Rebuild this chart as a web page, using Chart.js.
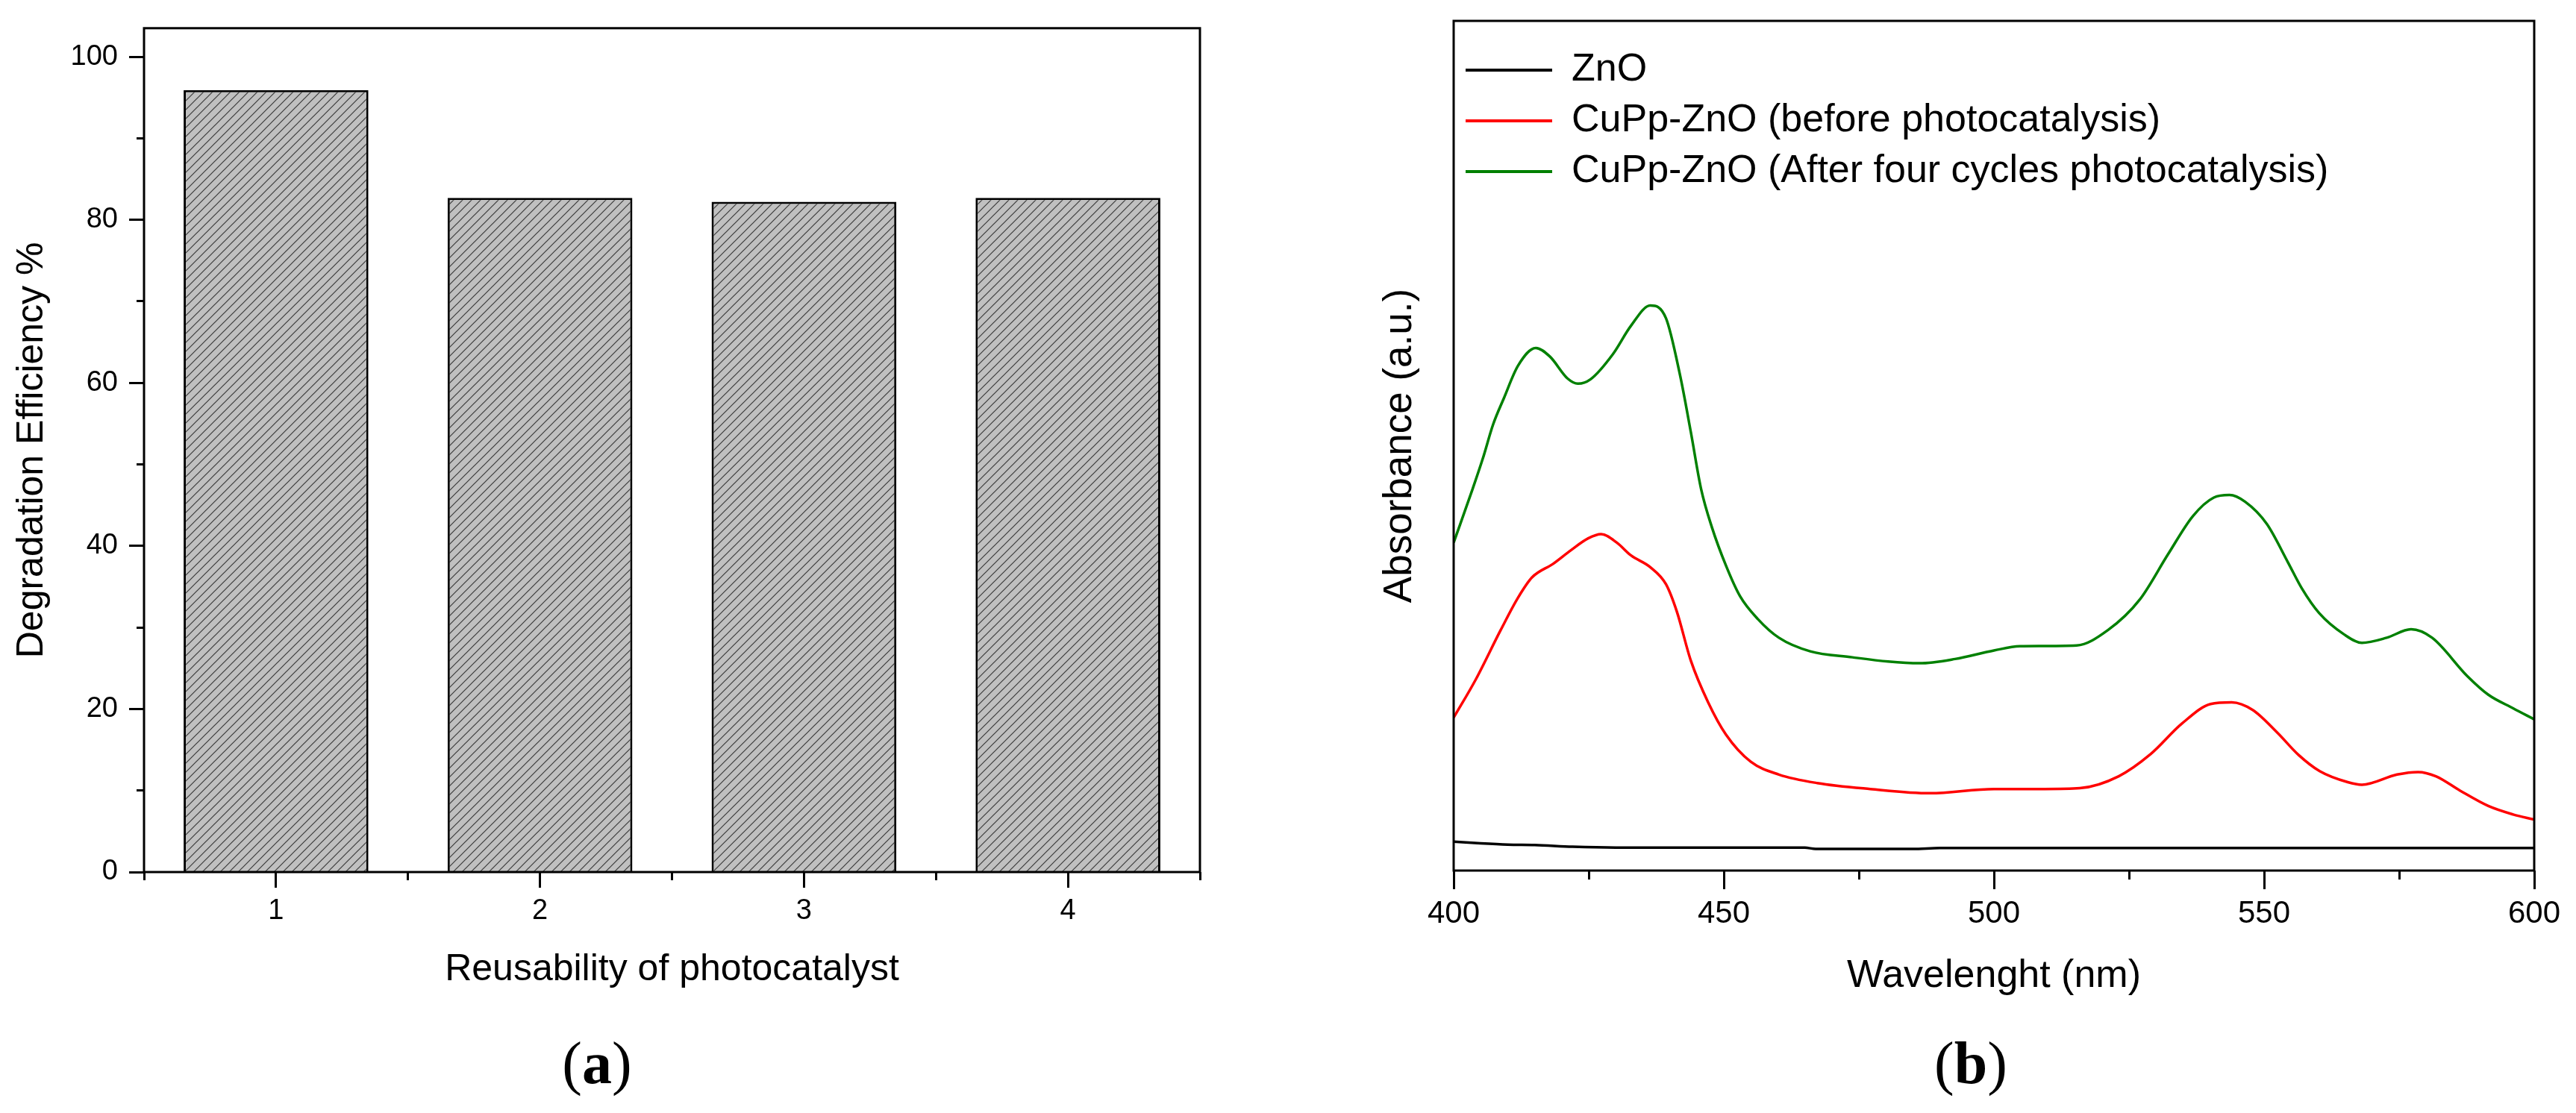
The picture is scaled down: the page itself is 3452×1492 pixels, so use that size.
<!DOCTYPE html>
<html>
<head>
<meta charset="utf-8">
<script src="https://cdn.jsdelivr.net/npm/chart.js@4.4.1/dist/chart.umd.min.js"></script>
<style>
  html, body { margin: 0; padding: 0; background: #fff; }
  #page { position: relative; width: 3452px; height: 1492px; overflow: hidden; background: #fff; }
  canvas { position: absolute; top: 0; }
  #chartA { left: 0; }
  #chartB { left: 1700px; }
  .panel { position: absolute; top: 1385px; width: 200px; text-align: center;
           font-family: 'Liberation Serif', 'Times New Roman', serif; font-size: 80px; line-height: 80px; color: #000; }
</style>
</head>
<body>
<div id="page">
  <canvas id="chartA" width="1700" height="1492"></canvas>
  <canvas id="chartB" width="1752" height="1492"></canvas>
  <div class="panel" style="left:700px">(<b>a</b>)</div>
  <div class="panel" style="left:2541px">(<b>b</b>)</div>
</div>
<script>
// (a) reusability bars
const cycles = ['1', '2', '3', '4']
const efficiency = [95.9, 82.7, 82.2, 82.7]
const effMajorTicks = [0, 20, 40, 60, 80, 100]
const effMinorTicks = [10, 30, 50, 70, 90]

// (b) absorbance spectra (a.u., 0-100 frame)
const wlMajorTicks = [400, 450, 500, 550, 600]
const wlMinorTicks = [425, 475, 525, 575]

const znoWl  = [400, 405, 410, 415, 422, 430, 465, 467, 485, 490, 600]
const znoAbs = [3.4, 3.2, 3.05, 3.0, 2.8, 2.7, 2.7, 2.55, 2.55, 2.65, 2.65]

const beforeWl  = [400, 404.1, 408.7, 411.9, 414.5, 418.4, 421.7, 424.9, 427.3, 430.2, 432.8, 436.4, 439.3, 441.3,
                   443.9, 447.1, 450.4, 455, 460.2, 467.3, 477.1, 488.2, 500, 509.4, 515.9, 523.1, 529, 534.8,
                   540.1, 544, 547.9, 552.5, 556.4, 560.3, 565.5, 568.1, 574.6, 578.5, 581.8, 586.3, 591.5, 596.1, 600]
const beforeAbs = [18.0, 22.5, 28.3, 32.1, 34.5, 36.1, 37.7, 39.1, 39.6, 38.6, 37.1, 35.7, 33.7, 30.5,
                   24.7, 19.8, 16.0, 12.8, 11.3, 10.3, 9.6, 9.1, 9.6, 9.6, 9.7, 11.1, 13.7, 17.3,
                   19.6, 19.8, 18.9, 16.2, 13.6, 11.7, 10.4, 10.1, 11.3, 11.6, 11.1, 9.4, 7.6, 6.6, 6.0]

const afterWl  = [400, 403.5, 405.4, 407.3, 409.3, 411.9, 415.2, 417.8, 421.1, 423, 425.3, 429.5, 432.8, 436.4,
                  439.3, 441.9, 443.9, 445.8, 447.8, 450.4, 453, 456.3, 460.2, 466, 473.8, 480.4, 486.2, 492.8,
                  500, 504.8, 515.3, 521.1, 527, 532.2, 536.8, 540.7, 543.6, 546.5, 550.5, 554.4, 557, 560.2,
                  564.8, 568.1, 572.7, 577.2, 581.1, 587.6, 591.5, 596.1, 600]
const afterAbs = [38.6, 44.9, 48.5, 52.5, 55.6, 59.4, 61.5, 60.5, 57.9, 57.3, 57.8, 60.8, 64.1, 66.5,
                  65.0, 58.3, 51.6, 44.9, 40.4, 35.9, 32.3, 29.6, 27.4, 25.8, 25.1, 24.6, 24.4, 24.9,
                  25.9, 26.4, 26.5, 28.3, 31.9, 37.2, 41.7, 43.9, 44.2, 43.4, 40.8, 36.3, 33.2, 30.3,
                  27.8, 26.8, 27.4, 28.4, 27.4, 22.9, 20.7, 19.1, 17.8]

const family = "'Liberation Sans', Arial, sans-serif"

function toPoints(xs, ys) {
    return xs.map((x, i) => ({x: x, y: ys[i]}))
}

function hatchPattern() {
    const c = document.createElement('canvas')
    c.width = 12
    c.height = 12
    const g = c.getContext('2d')
    g.fillStyle = '#c0c0c0'
    g.fillRect(0, 0, 12, 12)
    g.strokeStyle = '#3a3a3a'
    g.lineWidth = 1.2
    g.beginPath()
    g.moveTo(0, 12); g.lineTo(12, 0)
    g.moveTo(-6, 6); g.lineTo(6, -6)
    g.moveTo(6, 18); g.lineTo(18, 6)
    g.stroke()
    return g.createPattern(c, 'repeat')
}

// box round the plot area, like Origin draws it
const framePlugin = {
    id: 'frame',
    afterDatasetsDraw(chart) {
        const {ctx, chartArea: a} = chart
        ctx.save()
        ctx.strokeStyle = '#000'
        ctx.lineWidth = 3
        ctx.strokeRect(a.left, a.top, a.right - a.left, a.bottom - a.top)
        ctx.restore()
    }
}

function fixedTicks(values) {
    return scale => { scale.ticks = values.map(v => ({value: v})) }
}

const tickGrid = (len) => ({
    drawOnChartArea: false, drawTicks: true, tickLength: len, tickWidth: 3, tickColor: '#000'
})

new Chart(document.getElementById('chartA'), {
    type: 'bar',
    data: {
        labels: cycles,
        datasets: [{
            data: efficiency,
            backgroundColor: hatchPattern(),
            borderColor: '#000',
            borderWidth: 3,
            barPercentage: 0.7,
            categoryPercentage: 1
        }]
    },
    options: {
        responsive: false,
        animation: false,
        devicePixelRatio: 1,
        layout: { padding: { top: 31, right: 92, left: 0, bottom: 0 } },
        plugins: { legend: { display: false }, tooltip: { enabled: false } },
        scales: {
            x: {
                type: 'category', position: 'bottom', weight: 1, offset: true,
                grid: Object.assign(tickGrid(21), { offset: false }),
                border: { display: false },
                ticks: { color: '#000', font: { family: family, size: 38 }, padding: 9, maxRotation: 0 },
                title: { display: true, text: 'Reusability of photocatalyst', color: '#000',
                         font: { family: family, size: 50 }, padding: { top: 0, bottom: 162 } },
                afterFit: s => { s.height = 323 }
            },
            xMinor: {
                type: 'category', position: 'bottom', weight: 0, offset: true,
                grid: Object.assign(tickGrid(11), { offset: true }),
                border: { display: false },
                ticks: { display: false },
                afterFit: s => { s.height = 0 }
            },
            y: {
                type: 'linear', position: 'left', weight: 1, min: 0, max: 103.5,
                afterBuildTicks: fixedTicks(effMajorTicks),
                grid: tickGrid(20),
                border: { display: false },
                ticks: { color: '#000', font: { family: family, size: 38 }, padding: 15 },
                title: { display: true, text: 'Degradation Efficiency %', color: '#000',
                         font: { family: family, size: 50 }, padding: { top: 13, bottom: 0 } },
                afterFit: s => { s.width = 193 }
            },
            yMinor: {
                type: 'linear', position: 'left', weight: 0, min: 0, max: 103.5,
                afterBuildTicks: fixedTicks(effMinorTicks),
                grid: tickGrid(10),
                border: { display: false },
                ticks: { display: false },
                afterFit: s => { s.width = 0 }
            }
        }
    },
    plugins: [framePlugin]
})

const lineSet = (label, xs, ys, color) => ({
    label: label,
    data: toPoints(xs, ys),
    borderColor: color,
    backgroundColor: color,
    borderWidth: 3.5,
    pointRadius: 0,
    cubicInterpolationMode: 'monotone'
})

new Chart(document.getElementById('chartB'), {
    type: 'line',
    data: {
        datasets: [
            lineSet('ZnO', znoWl, znoAbs, '#000000'),
            lineSet('CuPp-ZnO (before photocatalysis)', beforeWl, beforeAbs, '#ff0000'),
            lineSet('CuPp-ZnO (After four cycles photocatalysis)', afterWl, afterAbs, '#008000')
        ]
    },
    options: {
        responsive: false,
        animation: false,
        devicePixelRatio: 1,
        layout: { padding: { top: 28, right: 56, left: 0, bottom: 0 } },
        plugins: {
            tooltip: { enabled: false },
            legend: {
                position: 'chartArea',
                align: 'start',
                // empty title only to push the rows down inside the frame
                title: { display: true, text: ' ', font: { size: 10 }, padding: { top: 20, bottom: 20 } },
                labels: {
                    color: '#000',
                    font: { family: family, size: 52 },
                    boxWidth: 116,
                    boxHeight: 4,
                    padding: 16,
                    generateLabels: chart => Chart.defaults.plugins.legend.labels.generateLabels(chart)
                        .map(item => Object.assign(item, { lineWidth: 0 }))
                }
            }
        },
        scales: {
            x: {
                type: 'linear', position: 'bottom', weight: 1, min: 400, max: 600,
                afterBuildTicks: fixedTicks(wlMajorTicks),
                grid: tickGrid(25),
                border: { display: false },
                ticks: { color: '#000', font: { family: family, size: 42 }, padding: 8, maxRotation: 0 },
                title: { display: true, text: 'Wavelenght (nm)', color: '#000',
                         font: { family: family, size: 52 }, padding: { top: 0, bottom: 152 } },
                afterFit: s => { s.height = 325 }
            },
            xMinor: {
                type: 'linear', position: 'bottom', weight: 0, min: 400, max: 600,
                afterBuildTicks: fixedTicks(wlMinorTicks),
                grid: tickGrid(12),
                border: { display: false },
                ticks: { display: false },
                afterFit: s => { s.height = 0 }
            },
            y: {
                type: 'linear', position: 'left', min: 0, max: 100,
                grid: { display: false, drawTicks: false },
                border: { display: false },
                ticks: { display: false },
                title: { display: true, text: 'Absorbance (a.u.)', color: '#000',
                         font: { family: family, size: 53 }, padding: { top: 145, bottom: 0 } },
                afterFit: s => { s.width = 248 }
            }
        }
    },
    plugins: [framePlugin]
})
</script>
</body>
</html>
